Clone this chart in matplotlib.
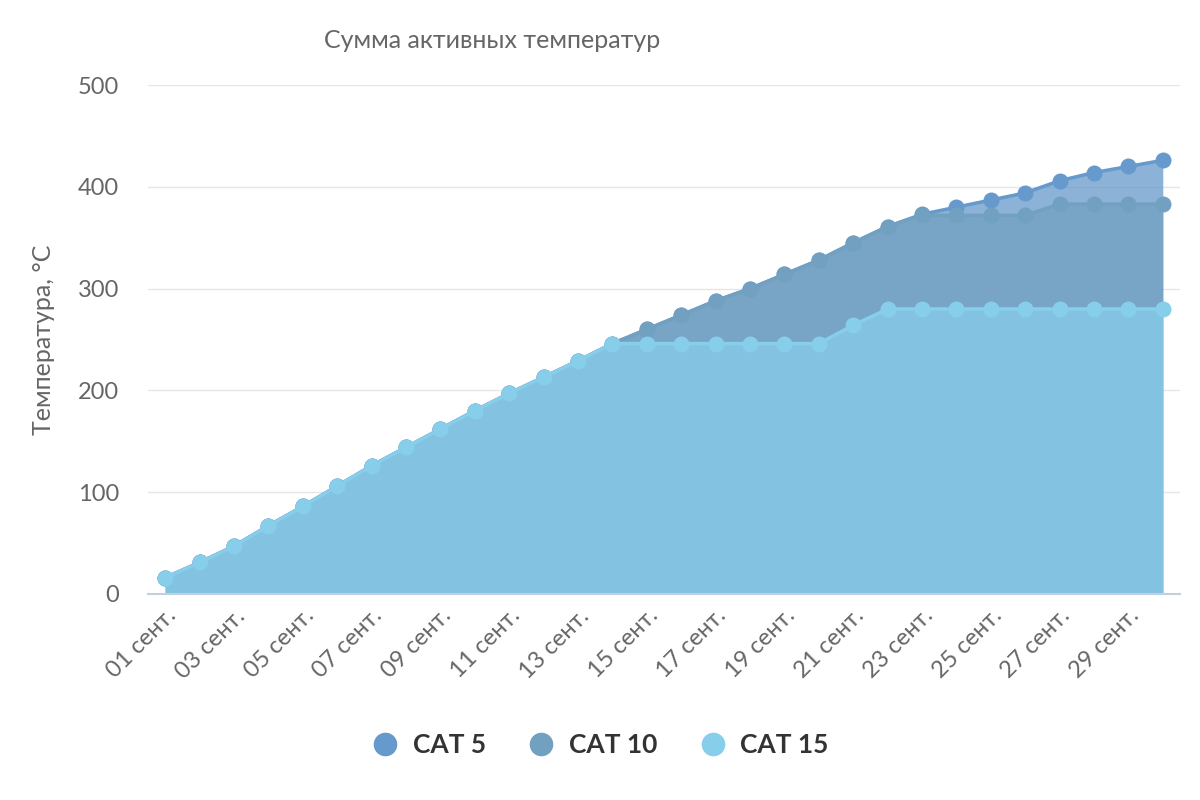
import matplotlib
matplotlib.use('Agg')
import matplotlib.pyplot as plt
from matplotlib.lines import Line2D

plt.rcParams['font.family'] = ['Lato', 'DejaVu Sans']

days = ['%02d сент.' % d for d in range(1, 31)]
cat15 = [16, 31, 47, 67, 86, 106, 126, 144, 162, 180, 197, 213, 229, 246,
         246, 246, 246, 246, 246, 246, 264, 280, 280, 280, 280, 280, 280, 280, 280, 280]
cat10 = [16, 31, 47, 67, 86, 106, 126, 144, 162, 180, 197, 213, 229, 246,
         260, 274, 288, 300, 314, 328, 345, 361, 372, 372, 372, 372, 383, 383, 383, 383]
cat5 = [16, 31, 47, 67, 86, 106, 126, 144, 162, 180, 197, 213, 229, 246,
        260, 274, 288, 300, 314, 328, 345, 361, 373, 380, 387, 394, 406, 414, 420, 426]
names = ['CAT 5', 'CAT 10', 'CAT 15']
colors = ['#6699CC', '#72A0C1', '#87CEEB']

fig = plt.figure(figsize=(12, 8), dpi=100)
ax = fig.add_axes([148 / 1200, 206 / 800, 1032 / 1200, 509 / 800])

x = list(range(len(days)))
for vals, c, z in zip([cat5, cat10, cat15], colors, [1, 2, 3]):
    ax.fill_between(x, 0, vals, color=c, alpha=0.75, linewidth=0, zorder=z)
    ax.plot(x, vals, color=c, lw=2.5, marker='o', markersize=11.5,
            markeredgewidth=0, zorder=z + 0.5)

ax.set_xlim(-0.5, 29.5)
ax.set_ylim(0, 500)
ax.set_yticks([0, 100, 200, 300, 400, 500])
ax.grid(axis='y', color='#E6E6E6', lw=1)
ax.set_axisbelow(True)
for s in ['top', 'right', 'left']:
    ax.spines[s].set_visible(False)
ax.spines['bottom'].set_color('#C0D0E0')
ax.spines['bottom'].set_linewidth(1.5)
ax.spines['bottom'].set_zorder(5)

ax.set_xticks(x[::2])
ax.set_xticklabels(days[::2], rotation=45, ha='right', va='top',
                   rotation_mode='anchor', fontsize=17, color='#666666')
ax.tick_params(axis='x', length=0, pad=8)
ax.tick_params(axis='y', length=0, pad=21, labelsize=17, labelcolor='#666666')

fig.text(44 / 1200, 1 - 340 / 800, 'Температура, °С', fontsize=18,
         color='#666666', ha='center', va='center', rotation=90)
fig.text(492 / 1200, 1 - 40 / 800, 'Сумма активных температур', fontsize=18,
         color='#666666', ha='center', va='center')

handles = [Line2D([], [], ls='none', marker='o', markersize=17, color=c,
                  markeredgewidth=0) for c in colors]
leg = fig.legend(handles, names, loc='center', bbox_to_anchor=(0.499, 1 - 745 / 800),
                 ncol=3, frameon=False, handlelength=1.2, handletextpad=0.45,
                 columnspacing=1.5, prop={'size': 19, 'weight': 'bold'})
for t in leg.get_texts():
    t.set_color('#333333')

fig.savefig('out.png', dpi=100)
